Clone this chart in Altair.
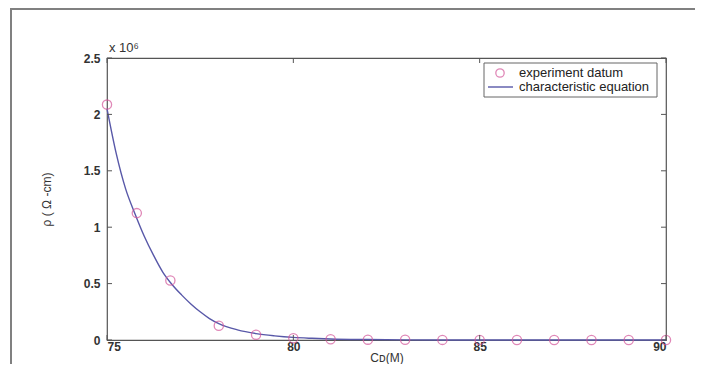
import altair as alt
import pandas as pd

# experiment datum (x: C_D in M, y: rho in 10^6 ohm-cm)
exp_x = [75, 75.8, 76.7, 78, 79, 80, 81, 82, 83, 84, 85, 86, 87, 88, 89, 90]
exp_y = [2.087, 1.125, 0.527, 0.126, 0.047, 0.015, 0.006, 0.003, 0.002, 0.001,
         0.001, 0.0, 0.0, 0.0, 0.0, 0.0]

# characteristic equation curve
fit_x = [75, 75.25, 75.5, 75.75, 76, 76.25, 76.5, 76.75, 77, 77.25, 77.5, 77.75,
         78, 78.5, 79, 79.5, 80, 80.5, 81, 82, 83, 84, 85, 86, 87, 88, 89, 90]
fit_y = [2.05, 1.65, 1.34, 1.12, 0.92, 0.75, 0.6, 0.49, 0.40, 0.32, 0.25, 0.19,
         0.145, 0.09, 0.057, 0.037, 0.023, 0.015, 0.009, 0.004, 0.0015, 0.0006,
         0.0003, 0.0001, 0.0, 0.0, 0.0, 0.0]

x_ticks = [75, 80, 85, 90]
y_ticks = [0, 0.5, 1, 1.5, 2, 2.5]

legend_labels = ["experiment datum", "characteristic equation"]

W, H = 559, 282
PAD_L, PAD_T, PAD_R, PAD_B = 99, 50, 29, 24
FONT = "Liberation Sans"
AXIS_GRAY = "#555555"
PINK = "#d4569a"
BLUE = "#5858a8"

exp_df = pd.DataFrame({"x": exp_x, "y": exp_y})
fit_df = pd.DataFrame({"x": fit_x, "y": fit_y})
xt_df = pd.DataFrame({"x": x_ticks})
yt_df = pd.DataFrame({"y": y_ticks})

xscale = alt.Scale(domain=[75, 90], nice=False, zero=False)
yscale = alt.Scale(domain=[0, 2.5], nice=False)

x_enc = alt.X("x:Q", scale=xscale,
              axis=alt.Axis(values=x_ticks, ticks=False, domain=False, grid=False,
                            labelPadding=1, title="Cᴅ(M)", titlePadding=0))
y_enc = alt.Y("y:Q", scale=yscale,
              axis=alt.Axis(values=y_ticks, ticks=False, domain=False, grid=False,
                            format="~g", labelPadding=7, title="ρ ( Ω -cm)",
                            titlePadding=30))

curve = alt.Chart(fit_df).mark_line(color=BLUE, strokeWidth=1.4, interpolate="monotone").encode(
    x=x_enc, y=y_enc)

points = alt.Chart(exp_df).mark_point(shape="circle", size=85, color=PINK,
                                      strokeWidth=1.3, filled=False).encode(
    x=alt.X("x:Q", scale=xscale), y=alt.Y("y:Q", scale=yscale))

tick_len = 5
xt_bottom = alt.Chart(xt_df).mark_rule(color=AXIS_GRAY).encode(
    x=alt.X("x:Q", scale=xscale), y=alt.value(H), y2=alt.value(H - tick_len))
xt_top = alt.Chart(xt_df).mark_rule(color=AXIS_GRAY).encode(
    x=alt.X("x:Q", scale=xscale), y=alt.value(0), y2=alt.value(tick_len))
yt_left = alt.Chart(yt_df).mark_rule(color=AXIS_GRAY).encode(
    y=alt.Y("y:Q", scale=yscale), x=alt.value(0), x2=alt.value(tick_len))
yt_right = alt.Chart(yt_df).mark_rule(color=AXIS_GRAY).encode(
    y=alt.Y("y:Q", scale=yscale), x=alt.value(W), x2=alt.value(W - tick_len))

# exponent label
exp_label = alt.Chart(pd.DataFrame({"t": ["x 10⁶"]})).mark_text(
    font=FONT, fontSize=13, color="#333333", align="left", baseline="bottom").encode(
    x=alt.value(2), y=alt.value(-3), text="t:N")

# legend
LX, LY = 377, 5
leg_box = alt.Chart(pd.DataFrame({"b": [1]})).mark_rect(
    fill="white", stroke="#666666", strokeWidth=1).encode(
    x=alt.value(LX), x2=alt.value(W - 9), y=alt.value(LY), y2=alt.value(LY + 34))
leg_pt = alt.Chart(pd.DataFrame({"p": [2]})).mark_point(
    shape="circle", size=70, color=PINK, strokeWidth=1.3).encode(
    x=alt.value(LX + 16), y=alt.value(LY + 10))
leg_line = alt.Chart(pd.DataFrame({"l": [3]})).mark_rect(color=BLUE).encode(
    x=alt.value(LX + 4), x2=alt.value(LX + 29),
    y=alt.value(LY + 23.3), y2=alt.value(LY + 24.7))
leg_txt1 = alt.Chart(pd.DataFrame({"t": [legend_labels[0]]})).mark_text(
    font=FONT, fontSize=13, color="#222222", align="left", baseline="middle").encode(
    x=alt.value(LX + 35), y=alt.value(LY + 10), text="t:N")
leg_txt2 = alt.Chart(pd.DataFrame({"t": [legend_labels[1]]})).mark_text(
    font=FONT, fontSize=13, color="#222222", align="left", baseline="middle").encode(
    x=alt.value(LX + 35), y=alt.value(LY + 24), text="t:N")

# outer frame (left and top edges only), drawn as thin filled bars
frame_left = alt.Chart(pd.DataFrame({"fl": [4]})).mark_rect(color="#808080").encode(
    x=alt.value(2 - PAD_L), x2=alt.value(4 - PAD_L),
    y=alt.value(0 - PAD_T), y2=alt.value(H + PAD_B + 20))
frame_top = alt.Chart(pd.DataFrame({"ft": [5]})).mark_rect(color="#808080").encode(
    x=alt.value(2 - PAD_L), x2=alt.value(W + PAD_R + 40),
    y=alt.value(0 - PAD_T), y2=alt.value(2 - PAD_T))

chart = alt.layer(
    frame_left, frame_top, curve, points, xt_bottom, xt_top, yt_left, yt_right,
    exp_label, leg_box, leg_pt, leg_line, leg_txt1, leg_txt2
).properties(
    width=W, height=H,
    autosize=alt.AutoSizeParams(type="none"),
    padding={"left": PAD_L, "top": PAD_T, "right": PAD_R, "bottom": PAD_B},
    background="white",
).configure_view(stroke=AXIS_GRAY, strokeWidth=1.2).configure_axis(
    labelFont=FONT, labelFontSize=12, labelColor="#333333", labelFontWeight="bold",
    titleFont=FONT, titleFontSize=12, titleColor="#333333", titleFontWeight="normal",
)

chart.save("out.html", embed_options={"renderer": "svg", "actions": False})
